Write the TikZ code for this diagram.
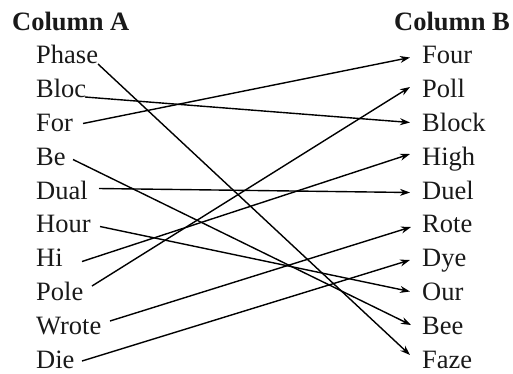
\documentclass[tikz,border=0pt]{standalone}
\usepackage{fontspec}
\setmainfont{Liberation Serif}
\usetikzlibrary{arrows.meta}
\begin{document}
\begin{tikzpicture}[x=1pt,y=-1pt,
  word/.style={anchor=base west,inner sep=0pt,font=\fontsize{26.5}{30}\selectfont,text=black!90},
  head/.style={anchor=base west,inner sep=0pt,font=\fontsize{26.5}{30}\selectfont\bfseries,text=black!90},
  link/.style={line width=1.4pt,-{Stealth[length=10pt,width=7pt]}}]
\useasboundingbox (0,0) rectangle (513,373);
\node[head] (ha) at (12,30) {Column A};
\node[head] (hb) at (394,30) {Column B};
% Column A
\node[word] (a1) at (36,63) {Phase};
\node[word] (a2) at (36,97) {Bloc};
\node[word] (a3) at (36,131) {For};
\node[word] (a4) at (36,165) {Be};
\node[word] (a5) at (36,199) {Dual};
\node[word] (a6) at (36,232.5) {Hour};
\node[word] (a7) at (36,266) {Hi};
\node[word] (a8) at (36,300) {Pole};
\node[word] (a9) at (36,334) {Wrote};
\node[word] (a10) at (36,368) {Die};
% Column B
\node[word] (b1) at (422,63) {Four};
\node[word] (b2) at (422,97) {Poll};
\node[word] (b3) at (422,131) {Block};
\node[word] (b4) at (422,165) {High};
\node[word] (b5) at (422,199) {Duel};
\node[word] (b6) at (422,232.5) {Rote};
\node[word] (b7) at (422,266) {Dye};
\node[word] (b8) at (422,300) {Our};
\node[word] (b9) at (422,334) {Bee};
\node[word] (b10) at (422,368) {Faze};
% start points
\coordinate (s1) at (98,64);
\coordinate (s2) at (85,97);
\coordinate (s3) at (83,123.5);
\coordinate (s4) at (73,159.5);
\coordinate (s5) at (99,188.5);
\coordinate (s6) at (100,226.5);
\coordinate (s7) at (82,261.5);
\coordinate (s8) at (92,286);
\coordinate (s9) at (110,321);
\coordinate (s10) at (82,361);
% end points
\coordinate (e1) at (410,57.5);
\coordinate (e2) at (410,87);
\coordinate (e3) at (410,122.5);
\coordinate (e4) at (410,154);
\coordinate (e5) at (410,192.5);
\coordinate (e6) at (411,227);
\coordinate (e7) at (410,260);
\coordinate (e8) at (410,291.5);
\coordinate (e9) at (411,325);
\coordinate (e10) at (410,355);
% connectors
\draw[link] (s1) -- (e10);
\draw[link] (s2) -- (e3);
\draw[link] (s3) -- (e1);
\draw[link] (s4) -- (e9);
\draw[link] (s5) -- (e5);
\draw[link] (s6) -- (e8);
\draw[link] (s7) -- (e4);
\draw[link] (s8) -- (e2);
\draw[link] (s9) -- (e6);
\draw[link] (s10) -- (e7);
\end{tikzpicture}
\end{document}
